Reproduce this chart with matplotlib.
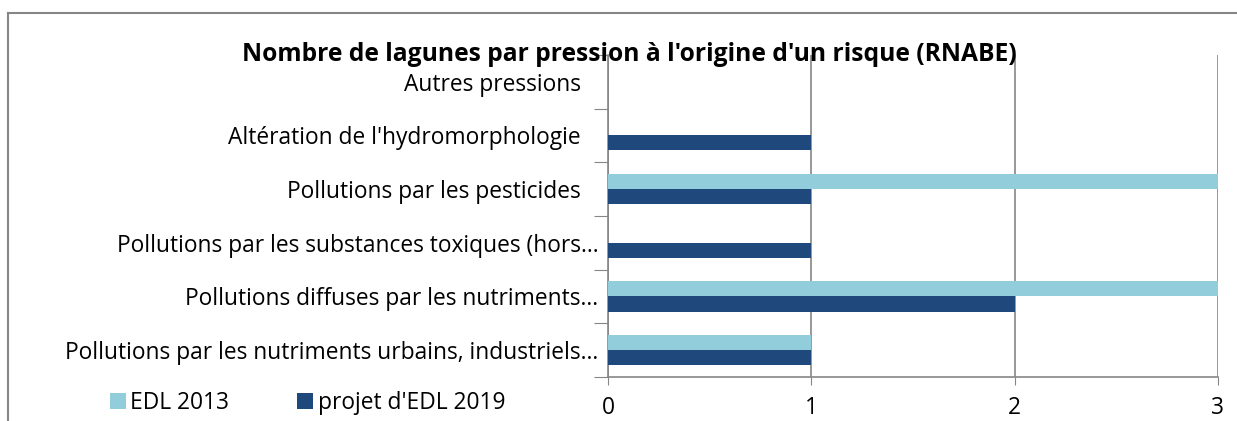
import matplotlib.pyplot as plt
import numpy as np
from matplotlib.lines import Line2D

plt.rcParams['font.family'] = ['Open Sans', 'DejaVu Sans']

categories = [
    "Pollutions par les nutriments urbains, industriels…",
    "Pollutions diffuses par les nutriments…",
    "Pollutions par les substances toxiques (hors…",
    "Pollutions par les pesticides   ",
    "Altération de l'hydromorphologie   ",
    "Autres pressions   ",
]
edl_2013 = [1, 3, 0, 3, 0, 0]
edl_2019 = [1, 2, 1, 1, 1, 0]

c_2013 = "#92CDDC"
c_2019 = "#1F497D"
gray = "#868686"

fig = plt.figure(figsize=(12.37, 4.21), dpi=100)
ax = fig.add_axes([0.4915, 0.1045, 0.4931, 0.7650])

y = np.arange(len(categories))
h = 0.28
ax.barh(y + h / 2, edl_2013, height=h, color=c_2013, label="EDL 2013", zorder=3)
ax.barh(y - h / 2, edl_2019, height=h, color=c_2019, label="projet d'EDL 2019", zorder=3)

ax.set_xlim(0, 3)
ax.set_ylim(-0.5, len(categories) - 0.5)
ax.set_xticks([0, 1, 2, 3])
ax.set_yticks(np.arange(len(categories) + 1) - 0.5, minor=False)
ax.set_yticklabels([])
ax.set_yticks(y, minor=True)
ax.set_yticklabels(categories, minor=True, fontsize=16.4)
ax.tick_params(axis='y', which='minor', length=0, pad=7)
ax.tick_params(axis='y', which='major', length=10, color=gray, direction='out')
ax.tick_params(axis='x', length=6, color=gray, labelsize=16.4, pad=8)
ax.grid(axis='x', color=gray, linewidth=1.2, zorder=0)
for s in ['top', 'right']:
    ax.spines[s].set_visible(False)
for s in ['left', 'bottom']:
    ax.spines[s].set_color(gray)
    ax.spines[s].set_linewidth(1.2)

fig.text(0.509, 0.855, "Nombre de lagunes par pression à l'origine d'un risque (RNABE)",
         ha='center', va='baseline', fontsize=17.7, fontweight='bold')

handles, labels = ax.get_legend_handles_labels()
fig.legend(handles, labels, loc='lower left', bbox_to_anchor=(0.072, -0.035), ncol=2,
           frameon=False, fontsize=16.4, handlelength=0.7, handleheight=0.7,
           handletextpad=0.2, columnspacing=3.0)

# outer chart border
x0, y0 = 8 / 1237, 1 - 13 / 421
fig.add_artist(Line2D([x0, 1], [y0, y0], color=gray, linewidth=1.5, transform=fig.transFigure))
fig.add_artist(Line2D([x0, x0], [y0, 0], color=gray, linewidth=1.5, transform=fig.transFigure))

fig.savefig("out.png", dpi=100)
